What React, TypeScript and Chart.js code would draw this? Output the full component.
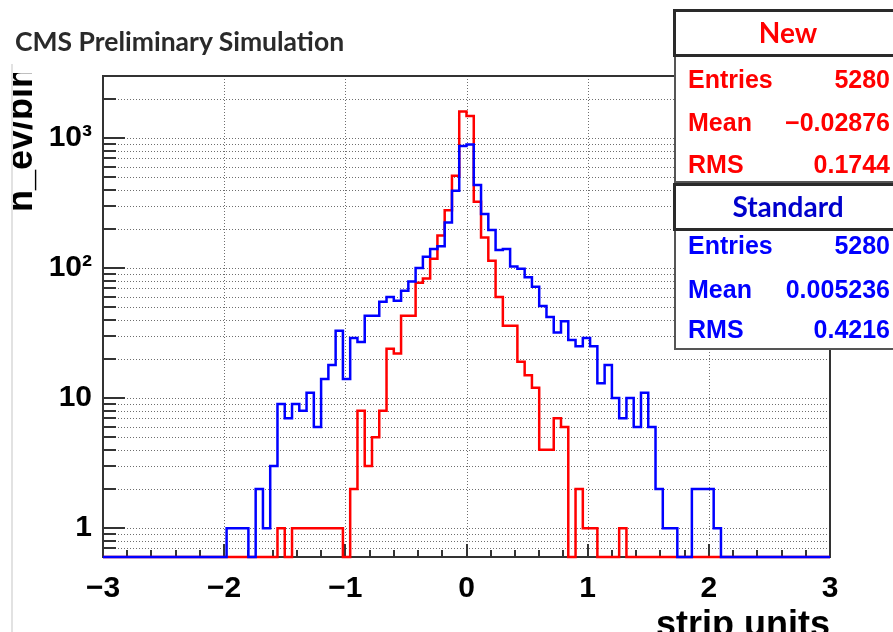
import React, { useEffect, useRef } from 'react';
import { Chart, registerables } from 'chart.js';

Chart.register(...registerables);

// ---- Data -----------------------------------------------------------
const X_MIN = -3;
const X_MAX = 3;
const BIN_WIDTH = 0.06;
const Y_MIN = 0.6;
const Y_MAX = 3000;

// "Standard" (blue) histogram, 100 bins from -3 to 3
const STD_COUNTS = [
  0, 0, 0, 0, 0, 0, 0, 0, 0, 0,
  0, 0, 0, 0, 0, 0, 0, 1, 1, 1,
  0, 2, 1, 3, 9, 7, 9, 8, 11, 6,
  14, 18, 33, 14, 29, 27, 43, 43, 55, 60,
  56, 67, 79, 100, 122, 140, 147, 224, 393, 870,
  890, 435, 261, 196, 138, 140, 103, 99, 85, 72,
  51, 42, 32, 39, 28, 25, 29, 25, 13, 18,
  10, 7, 10, 6, 11, 6, 2, 1, 1, 0,
  0, 2, 2, 2, 1, 0, 0, 0, 0, 0,
  0, 0, 0, 0, 0, 0, 0, 0, 0, 0,
];

// "New" (red) histogram, 100 bins from -3 to 3
const NEW_COUNTS = [
  0, 0, 0, 0, 0, 0, 0, 0, 0, 0,
  0, 0, 0, 0, 0, 0, 0, 0, 0, 0,
  0, 0, 0, 0, 1, 0, 1, 1, 1, 1,
  1, 1, 1, 0, 2, 8, 3, 5, 8, 24,
  22, 43, 43, 77, 83, 118, 178, 279, 512, 1600,
  1480, 324, 172, 114, 60, 36, 36, 19, 15, 12,
  4, 4, 7, 6, 0, 2, 1, 1, 0, 0,
  0, 1, 0, 0, 0, 0, 0, 0, 0, 0,
  0, 0, 0, 0, 0, 0, 0, 0, 0, 0,
  0, 0, 0, 0, 0, 0, 0, 0, 0, 0,
];

const X_TICKS = [-3, -2, -1, 0, 1, 2, 3];
const X_TICK_LABELS = ['\u22123', '\u22122', '\u22121', '0', '1', '2', '3'];
const X_MINOR_STEP = 0.2;
const Y_DECADES = [0.1, 1, 10, 100, 1000];
const Y_DECADE_LABELS = ['', '1', '10', '10\u00B2', '10\u00B3'];
const Y_MULTIPLIERS = [1, 2, 3, 4, 5, 6, 7, 8, 9];

const STAT_LABELS = ['Entries', 'Mean', 'RMS'];
const NEW_STATS = ['5280', '\u22120.02876', '0.1744'];
const STD_STATS = ['5280', '0.005236', '0.4216'];

// ---- helpers ----------------------------------------------------------
const toSteps = (counts: number[]) => {
  const pts: { x: number; y: number }[] = [];
  for (let i = 0; i <= counts.length; i++) {
    const c = counts[Math.min(i, counts.length - 1)];
    pts.push({ x: X_MIN + i * BIN_WIDTH, y: Math.max(c, Y_MIN) });
  }
  return pts;
};

const Y_TICK_VALUES: number[] = [];
Y_DECADES.forEach((d) =>
  Y_MULTIPLIERS.forEach((m) => {
    const v = +(d * m).toPrecision(6);
    if (v > Y_MIN && v < Y_MAX) Y_TICK_VALUES.push(v);
  })
);

const GRID_COLOR = '#6e6e6e';
const FRAME_COLOR = '#333333';

const rootStyle = {
  id: 'rootStyle',
  beforeDatasetsDraw(chart: any) {
    const { ctx, chartArea: a, scales } = chart;
    const x = scales.x;
    const y = scales.y;
    ctx.save();
    // dotted grid
    ctx.strokeStyle = GRID_COLOR;
    ctx.lineWidth = 1;
    ctx.setLineDash([1, 2]);
    ctx.beginPath();
    for (const t of y.ticks) {
      const py = Math.round(y.getPixelForValue(t.value)) + 0.5;
      ctx.moveTo(a.left, py);
      ctx.lineTo(a.right, py);
    }
    for (const t of x.ticks) {
      const px = Math.round(x.getPixelForValue(t.value)) + 0.5;
      ctx.moveTo(px, a.top);
      ctx.lineTo(px, a.bottom);
    }
    ctx.stroke();
    ctx.setLineDash([]);
    // inner tick marks
    ctx.strokeStyle = FRAME_COLOR;
    ctx.lineWidth = 2;
    ctx.beginPath();
    for (const t of y.ticks) {
      const py = Math.round(y.getPixelForValue(t.value));
      const major = Y_DECADES.some((d) => Math.abs(d - t.value) < 1e-9);
      ctx.moveTo(a.left, py);
      ctx.lineTo(a.left + (major ? 22 : 13), py);
    }
    const nMinor = Math.round((X_MAX - X_MIN) / X_MINOR_STEP);
    for (let i = 0; i <= nMinor; i++) {
      const v = X_MIN + i * X_MINOR_STEP;
      const px = Math.round(x.getPixelForValue(v));
      const major = Math.abs(v - Math.round(v)) < 1e-6;
      ctx.moveTo(px, a.bottom);
      ctx.lineTo(px, a.bottom - (major ? 13 : 7));
    }
    ctx.stroke();
    // frame
    ctx.lineWidth = 2;
    ctx.strokeRect(a.left, a.top, a.right - a.left, a.bottom - a.top);
    ctx.restore();
  },
};

const TICK_FONT = { family: "'Liberation Sans', Arial, sans-serif", size: 30, weight: 'bold' as const };

export default function App() {
  const ref = useRef<HTMLCanvasElement>(null);

  useEffect(() => {
    const canvas = ref.current;
    if (!canvas) return;
    const chart = new Chart(canvas, {
      type: 'line',
      data: {
        datasets: [
          {
            label: 'Standard',
            data: toSteps(STD_COUNTS),
            borderColor: '#0000ff',
            borderWidth: 2.5,
            stepped: 'before',
            pointRadius: 0,
            fill: false,
            clip: 4,
          },
          {
            label: 'New',
            data: toSteps(NEW_COUNTS),
            borderColor: '#ff0000',
            borderWidth: 2.5,
            stepped: 'before',
            pointRadius: 0,
            fill: false,
            clip: 4,
          },
        ],
      },
      options: {
        animation: false,
        responsive: false,
        devicePixelRatio: 1,
        events: [],
        layout: { padding: { left: 0, right: 63, top: 76, bottom: 0 } },
        plugins: {
          legend: { display: false },
          tooltip: { enabled: false },
          title: { display: false },
        },
        scales: {
          x: {
            type: 'linear',
            min: X_MIN,
            max: X_MAX,
            afterBuildTicks: (s: any) => {
              s.ticks = X_TICKS.map((v) => ({ value: v }));
            },
            afterFit: (s: any) => {
              s.height = 632 - 557;
            },
            ticks: {
              autoSkip: false,
              maxRotation: 0,
              padding: 14,
              color: '#000',
              font: TICK_FONT,
              callback: (v: any) => {
                const i = X_TICKS.indexOf(Number(v));
                return i >= 0 ? X_TICK_LABELS[i] : '';
              },
            },
            grid: { display: false, drawTicks: false },
            border: { display: false },
          },
          y: {
            type: 'logarithmic',
            min: Y_MIN,
            max: Y_MAX,
            afterBuildTicks: (s: any) => {
              s.ticks = Y_TICK_VALUES.map((v) => ({ value: v }));
            },
            afterFit: (s: any) => {
              s.width = 103;
            },
            ticks: {
              autoSkip: false,
              padding: 11,
              color: '#000',
              font: TICK_FONT,
              callback: (v: any) => {
                const i = Y_DECADES.findIndex((d) => Math.abs(d - Number(v)) < 1e-9);
                return i >= 0 ? Y_DECADE_LABELS[i] : '';
              },
            },
            grid: { display: false, drawTicks: false },
            border: { display: false },
          },
        },
      },
      plugins: [rootStyle],
    } as any);
    return () => chart.destroy();
  }, []);

  const statFont = "bold 25px 'Liberation Sans', Arial, sans-serif";
  const headFont = "bold 28px Lato, 'Open Sans', sans-serif";

  const statRows = (values: string[], centers: number[], color: string) =>
    STAT_LABELS.map((lab, i) => (
      <React.Fragment key={lab + color}>
        <div style={{ position: 'absolute', left: 688, top: centers[i] - 13, height: 26, lineHeight: '26px', font: statFont, color }}>{lab}</div>
        <div style={{ position: 'absolute', right: 3, top: centers[i] - 13, height: 26, lineHeight: '26px', font: statFont, color, whiteSpace: 'nowrap' }}>{values[i]}</div>
      </React.Fragment>
    ));

  return (
    <div style={{ position: 'fixed', left: 0, top: 0, width: 893, height: 632, overflow: 'hidden', background: '#fff' }}>
      <canvas ref={ref} width={893} height={632} style={{ position: 'absolute', left: 0, top: 0, width: 893, height: 632 }} />

      {/* pad edge */}
      <div style={{ position: 'absolute', left: 11, top: 64, width: 2, height: 568, background: '#e2e2e2' }} />

      {/* header title */}
      <div style={{ position: 'absolute', left: 15, top: 28, font: "bold 26.5px Lato, 'Open Sans', sans-serif", lineHeight: '26px', color: '#2a2a2a', whiteSpace: 'nowrap' }}>
        CMS Preliminary Simulation
      </div>

      {/* y axis title (clipped like the original pad) */}
      <div style={{ position: 'absolute', left: 13, top: 73, width: 40, height: 160, overflow: 'hidden' }}>
        <div
          style={{
            position: 'absolute',
            left: -11,
            top: 139,
            transformOrigin: '0 0',
            transform: 'rotate(-90deg)',
            font: "bold 36px 'Liberation Sans', Arial, sans-serif",
            lineHeight: '36px',
            whiteSpace: 'nowrap',
            color: '#000',
          }}
        >
          n_ev/bin
        </div>
      </div>

      {/* x axis title */}
      <div style={{ position: 'absolute', right: 893 - 830, top: 606, font: "bold 36px 'Liberation Sans', Arial, sans-serif", lineHeight: '36px', whiteSpace: 'nowrap', color: '#000' }}>
        strip units
      </div>

      {/* New stats */}
      <div style={{ position: 'absolute', left: 674, top: 55, width: 240, height: 128, border: '2px solid #555', background: '#fff', boxSizing: 'border-box' }} />
      {statRows(NEW_STATS, [78, 121, 163], '#ff0000')}
      <div style={{ position: 'absolute', left: 673, top: 9, width: 230, height: 48, border: '3px solid #2a2a2a', background: '#fff', boxSizing: 'border-box', textAlign: 'center', font: headFont, lineHeight: '40px', color: '#ff0000' }}>
        New
      </div>

      {/* Standard stats */}
      <div style={{ position: 'absolute', left: 674, top: 228, width: 240, height: 122, border: '2px solid #555', background: '#fff', boxSizing: 'border-box' }} />
      {statRows(STD_STATS, [244, 288, 328], '#0000ff')}
      <div style={{ position: 'absolute', left: 673, top: 183, width: 230, height: 48, border: '3px solid #2a2a2a', background: '#fff', boxSizing: 'border-box', textAlign: 'center', font: headFont, lineHeight: '40px', color: '#0000cc' }}>
        Standard
      </div>
    </div>
  );
}
